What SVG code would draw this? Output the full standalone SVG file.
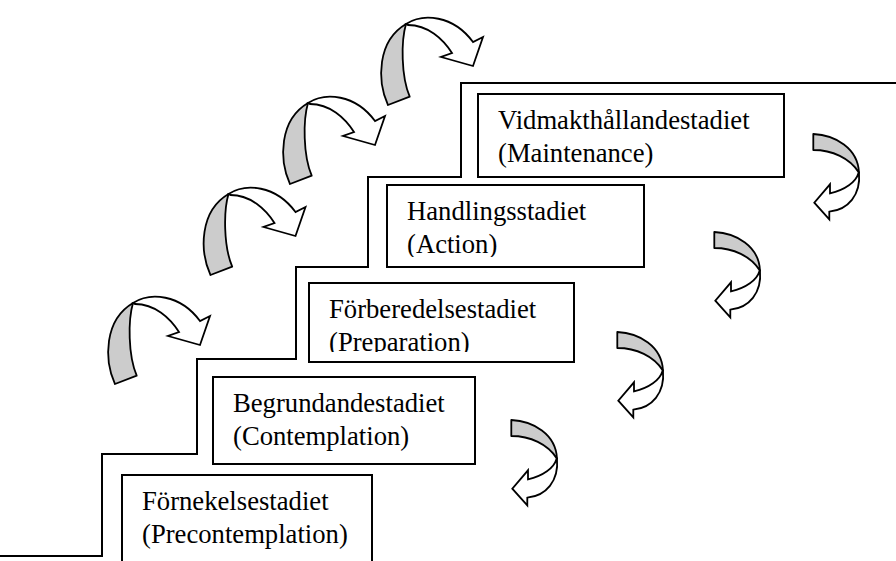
<svg xmlns="http://www.w3.org/2000/svg" width="896" height="561" viewBox="0 0 896 561">
<style>
.ln{fill:none;stroke:#000;stroke-width:2}
.box{fill:#fff;stroke:#000;stroke-width:2}
.gr{fill:#cccccc;stroke:#000;stroke-width:1.8;stroke-linejoin:round}
.wh{fill:#fff;stroke:#000;stroke-width:1.8;stroke-linejoin:miter}
.t{font-family:"Liberation Serif","Times New Roman",serif;font-size:26.67px;fill:#000}
</style>
<defs>
<g id="arrowL">
<path class="gr" d="M115,384 L136.7,375.7 C128,355 128,320 133,303 C104,320 104,360 115,384 Z"/>
<path class="wh" d="M133,303 C150,292 180,294 200,321 L210,316 L200,345 L168,336 L179,332 C170,318 155,304 135,304 Z"/>
</g>
<g id="arrowR">
<path class="gr" d="M813.3,134 C835,135 858,148 859,172.7 C850,158 832,150 813.3,150 Z"/>
<path class="wh" d="M859,172.7 C861,195 848,210 829.3,211.7 L829.3,219.3 L814.3,202.7 L830,184.3 L830,193.3 C845,190 856,182 858.5,173 Z"/>
</g>
<clipPath id="c3"><rect x="309" y="283" width="265" height="69"/></clipPath>
<clipPath id="c4"><rect x="387" y="185" width="257" height="72"/></clipPath>
</defs>
<rect width="896" height="561" fill="#fff"/>
<g id="stairs">
<path class="ln" d="M0,556 H102 V454 H197 V359 H296 V267 H368 V177 H461 V83 H896"/>
</g>
<g id="n1">
<rect class="box" x="122" y="475" width="250" height="100"/>
<text class="t" x="142" y="510">Förnekelsestadiet</text>
<text class="t" x="142" y="543">(Precontemplation)</text>
</g>
<g id="n2">
<rect class="box" x="213" y="377" width="262" height="87"/>
<text class="t" x="233" y="412">Begrundandestadiet</text>
<text class="t" x="233" y="445">(Contemplation)</text>
</g>
<g id="n3">
<rect class="box" x="309" y="283" width="265" height="79"/>
<g clip-path="url(#c3)">
<text class="t" x="329" y="318">Förberedelsestadiet</text>
<text class="t" x="329" y="351">(Preparation)</text>
</g>
</g>
<g id="n4">
<rect class="box" x="387" y="185" width="257" height="82"/>
<g clip-path="url(#c4)">
<text class="t" x="407" y="220">Handlingsstadiet</text>
<text class="t" x="407" y="253">(Action)</text>
</g>
</g>
<g id="n5">
<rect class="box" x="478" y="94" width="306" height="83"/>
<text class="t" x="498" y="129">Vidmakthållandestadiet</text>
<text class="t" x="498" y="162">(Maintenance)</text>
</g>
<g id="connectors">
<use href="#arrowL"/>
<use href="#arrowL" transform="translate(95.5,-109)"/>
<use href="#arrowL" transform="translate(175,-200)"/>
<use href="#arrowL" transform="translate(273,-279)"/>
<use href="#arrowR"/>
<use href="#arrowR" transform="translate(-99,98)"/>
<use href="#arrowR" transform="translate(-196,198)"/>
<use href="#arrowR" transform="translate(-302,286)"/>
</g>
</svg>
